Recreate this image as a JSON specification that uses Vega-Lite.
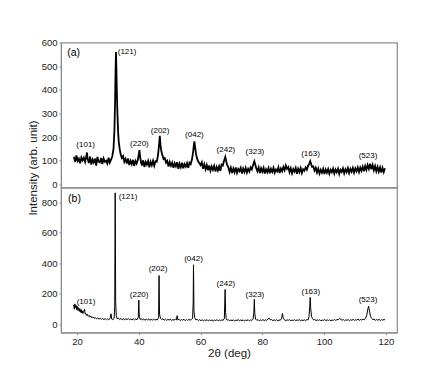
{
  "$schema": "https://vega.github.io/schema/vega-lite/v6.json",
  "padding": {"left": 26, "top": 36.5, "right": 10, "bottom": 5},
  "spacing": 0,
  "bounds": "flush",
  "config": {
    "font": "Liberation Sans",
    "view": {"stroke": "#8a8a8a", "strokeWidth": 1.2},
    "axis": {
      "grid": false,
      "domainColor": "#8a8a8a",
      "tickColor": "#8a8a8a",
      "tickSize": 2,
      "labelOverlap": false,
      "labelFont": "Liberation Sans",
      "labelFontSize": 9.5,
      "labelColor": "#222",
      "titleFont": "Liberation Sans",
      "titleFontSize": 11.5,
      "titleFontWeight": "normal",
      "titleColor": "#222"
    }
  },
  "datasets": {
    "a": [
      {"deg":19.0,"val":117},{"deg":19.4,"val":95},{"deg":19.8,"val":123},{"deg":20.2,"val":99},{"deg":20.6,"val":109},{"deg":21.0,"val":89},{"deg":21.4,"val":114},{"deg":21.8,"val":102},{"deg":22.2,"val":113},{"deg":22.6,"val":95},{"deg":23.0,"val":118},{"deg":23.2,"val":135},{"deg":23.4,"val":110},{"deg":23.8,"val":90},{"deg":24.2,"val":118},{"deg":24.6,"val":84},{"deg":25.0,"val":105},{"deg":25.4,"val":93},{"deg":25.8,"val":109},{"deg":26.2,"val":80},{"deg":26.6,"val":116},{"deg":27.0,"val":96},{"deg":27.4,"val":93},{"deg":27.8,"val":112},{"deg":28.2,"val":86},{"deg":28.6,"val":110},{"deg":29.0,"val":96},{"deg":29.4,"val":100},{"deg":29.8,"val":88},{"deg":30.2,"val":113},{"deg":30.6,"val":92},{"deg":31.0,"val":105},{"deg":31.4,"val":118},{"deg":31.8,"val":150},{"deg":32.1,"val":230},{"deg":32.3,"val":340},{"deg":32.45,"val":470},{"deg":32.6,"val":560},{"deg":32.75,"val":480},{"deg":32.9,"val":380},{"deg":33.1,"val":290},{"deg":33.3,"val":220},{"deg":33.5,"val":180},{"deg":33.8,"val":150},{"deg":34.1,"val":128},{"deg":34.5,"val":112},{"deg":34.9,"val":120},{"deg":35.3,"val":96},{"deg":35.7,"val":108},{"deg":36.1,"val":88},{"deg":36.5,"val":110},{"deg":36.9,"val":82},{"deg":37.3,"val":100},{"deg":37.7,"val":86},{"deg":38.1,"val":104},{"deg":38.5,"val":78},{"deg":38.9,"val":99},{"deg":39.3,"val":88},{"deg":39.7,"val":105},{"deg":40.0,"val":128},{"deg":40.2,"val":145},{"deg":40.4,"val":118},{"deg":40.7,"val":95},{"deg":41.0,"val":80},{"deg":41.4,"val":102},{"deg":41.8,"val":74},{"deg":42.2,"val":95},{"deg":42.6,"val":84},{"deg":43.0,"val":99},{"deg":43.4,"val":72},{"deg":43.8,"val":96},{"deg":44.2,"val":81},{"deg":44.6,"val":100},{"deg":45.0,"val":79},{"deg":45.4,"val":98},{"deg":45.8,"val":96},{"deg":46.2,"val":122},{"deg":46.5,"val":160},{"deg":46.8,"val":205},{"deg":47.0,"val":168},{"deg":47.3,"val":140},{"deg":47.6,"val":125},{"deg":48.0,"val":108},{"deg":48.4,"val":112},{"deg":48.8,"val":92},{"deg":49.2,"val":100},{"deg":49.6,"val":76},{"deg":50.0,"val":95},{"deg":50.4,"val":79},{"deg":50.8,"val":92},{"deg":51.2,"val":70},{"deg":51.6,"val":90},{"deg":52.0,"val":77},{"deg":52.4,"val":94},{"deg":52.8,"val":66},{"deg":53.2,"val":88},{"deg":53.6,"val":73},{"deg":54.0,"val":92},{"deg":54.4,"val":68},{"deg":54.8,"val":86},{"deg":55.2,"val":75},{"deg":55.6,"val":90},{"deg":56.0,"val":70},{"deg":56.4,"val":92},{"deg":56.8,"val":86},{"deg":57.2,"val":105},{"deg":57.6,"val":140},{"deg":57.85,"val":170},{"deg":58.0,"val":182},{"deg":58.2,"val":160},{"deg":58.5,"val":130},{"deg":58.8,"val":112},{"deg":59.2,"val":98},{"deg":59.6,"val":90},{"deg":60.0,"val":82},{"deg":60.4,"val":94},{"deg":60.8,"val":66},{"deg":61.2,"val":85},{"deg":61.6,"val":64},{"deg":62.0,"val":82},{"deg":62.4,"val":60},{"deg":62.8,"val":80},{"deg":63.2,"val":58},{"deg":63.6,"val":76},{"deg":64.0,"val":62},{"deg":64.4,"val":78},{"deg":64.8,"val":55},{"deg":65.2,"val":74},{"deg":65.6,"val":59},{"deg":66.0,"val":77},{"deg":66.4,"val":58},{"deg":66.8,"val":84},{"deg":67.2,"val":80},{"deg":67.6,"val":100},{"deg":68.0,"val":116},{"deg":68.3,"val":98},{"deg":68.6,"val":82},{"deg":69.0,"val":72},{"deg":69.4,"val":52},{"deg":69.8,"val":70},{"deg":70.2,"val":48},{"deg":70.6,"val":67},{"deg":71.0,"val":51},{"deg":71.4,"val":72},{"deg":71.8,"val":49},{"deg":72.2,"val":65},{"deg":72.6,"val":56},{"deg":73.0,"val":70},{"deg":73.4,"val":46},{"deg":73.8,"val":67},{"deg":74.2,"val":52},{"deg":74.6,"val":70},{"deg":75.0,"val":50},{"deg":75.4,"val":66},{"deg":75.8,"val":55},{"deg":76.2,"val":72},{"deg":76.6,"val":64},{"deg":77.0,"val":82},{"deg":77.4,"val":98},{"deg":77.7,"val":84},{"deg":78.0,"val":70},{"deg":78.4,"val":56},{"deg":78.8,"val":72},{"deg":79.2,"val":48},{"deg":79.6,"val":68},{"deg":80.0,"val":54},{"deg":80.4,"val":70},{"deg":80.8,"val":46},{"deg":81.2,"val":64},{"deg":81.6,"val":52},{"deg":82.0,"val":69},{"deg":82.4,"val":47},{"deg":82.8,"val":66},{"deg":83.2,"val":53},{"deg":83.6,"val":70},{"deg":84.0,"val":49},{"deg":84.4,"val":63},{"deg":84.8,"val":55},{"deg":85.2,"val":72},{"deg":85.6,"val":48},{"deg":86.0,"val":67},{"deg":86.4,"val":56},{"deg":86.8,"val":74},{"deg":87.2,"val":60},{"deg":87.6,"val":80},{"deg":88.0,"val":66},{"deg":88.4,"val":73},{"deg":88.8,"val":52},{"deg":89.2,"val":68},{"deg":89.6,"val":47},{"deg":90.0,"val":65},{"deg":90.4,"val":54},{"deg":90.8,"val":70},{"deg":91.2,"val":45},{"deg":91.6,"val":66},{"deg":92.0,"val":52},{"deg":92.4,"val":69},{"deg":92.8,"val":48},{"deg":93.2,"val":64},{"deg":93.6,"val":58},{"deg":94.0,"val":72},{"deg":94.4,"val":62},{"deg":94.8,"val":78},{"deg":95.2,"val":88},{"deg":95.5,"val":98},{"deg":95.8,"val":86},{"deg":96.1,"val":74},{"deg":96.5,"val":76},{"deg":96.9,"val":58},{"deg":97.3,"val":70},{"deg":97.7,"val":50},{"deg":98.1,"val":66},{"deg":98.5,"val":46},{"deg":98.9,"val":62},{"deg":99.3,"val":50},{"deg":99.7,"val":66},{"deg":100.1,"val":44},{"deg":100.5,"val":63},{"deg":100.9,"val":50},{"deg":101.3,"val":65},{"deg":101.7,"val":45},{"deg":102.1,"val":62},{"deg":102.5,"val":52},{"deg":102.9,"val":67},{"deg":103.3,"val":46},{"deg":103.7,"val":63},{"deg":104.1,"val":51},{"deg":104.5,"val":66},{"deg":104.9,"val":44},{"deg":105.3,"val":62},{"deg":105.7,"val":53},{"deg":106.1,"val":68},{"deg":106.5,"val":47},{"deg":106.9,"val":64},{"deg":107.3,"val":52},{"deg":107.7,"val":69},{"deg":108.1,"val":48},{"deg":108.5,"val":66},{"deg":108.9,"val":54},{"deg":109.3,"val":70},{"deg":109.7,"val":50},{"deg":110.1,"val":68},{"deg":110.5,"val":56},{"deg":110.9,"val":72},{"deg":111.3,"val":52},{"deg":111.7,"val":71},{"deg":112.1,"val":58},{"deg":112.5,"val":75},{"deg":112.9,"val":56},{"deg":113.3,"val":78},{"deg":113.7,"val":62},{"deg":114.1,"val":82},{"deg":114.5,"val":66},{"deg":114.9,"val":88},{"deg":115.3,"val":64},{"deg":115.7,"val":82},{"deg":116.1,"val":60},{"deg":116.5,"val":78},{"deg":116.9,"val":56},{"deg":117.3,"val":74},{"deg":117.7,"val":54},{"deg":118.1,"val":72},{"deg":118.5,"val":50},{"deg":118.9,"val":70},{"deg":119.3,"val":52},{"deg":119.7,"val":68}
    ],
    "b": [
      {"deg":18.9,"val":128},{"deg":19.1,"val":100},{"deg":19.3,"val":135},{"deg":19.5,"val":108},{"deg":19.7,"val":125},{"deg":19.9,"val":96},{"deg":20.1,"val":118},{"deg":20.3,"val":92},{"deg":20.5,"val":110},{"deg":20.7,"val":86},{"deg":20.9,"val":104},{"deg":21.1,"val":80},{"deg":21.3,"val":98},{"deg":21.5,"val":76},{"deg":21.7,"val":90},{"deg":21.9,"val":72},{"deg":22.1,"val":84},{"deg":22.3,"val":95},{"deg":22.45,"val":100},{"deg":22.6,"val":70},{"deg":22.8,"val":74},{"deg":23.0,"val":60},{"deg":23.3,"val":68},{"deg":23.6,"val":54},{"deg":23.9,"val":60},{"deg":24.2,"val":48},{"deg":24.5,"val":55},{"deg":24.8,"val":44},{"deg":25.1,"val":50},{"deg":25.5,"val":40},{"deg":25.9,"val":46},{"deg":26.3,"val":37},{"deg":26.7,"val":43},{"deg":27.1,"val":35},{"deg":27.5,"val":41},{"deg":27.9,"val":33},{"deg":28.3,"val":40},{"deg":28.7,"val":32},{"deg":29.1,"val":39},{"deg":29.5,"val":31},{"deg":29.9,"val":38},{"deg":30.3,"val":32},{"deg":30.7,"val":40},{"deg":31.0,"val":70},{"deg":31.2,"val":36},{"deg":31.6,"val":33},{"deg":32.0,"val":40},{"deg":32.2,"val":120},{"deg":32.35,"val":860},{"deg":32.5,"val":150},{"deg":32.7,"val":60},{"deg":33.0,"val":38},{"deg":33.4,"val":42},{"deg":33.8,"val":32},{"deg":34.2,"val":40},{"deg":34.6,"val":31},{"deg":35.0,"val":39},{"deg":35.4,"val":30},{"deg":35.8,"val":38},{"deg":36.2,"val":32},{"deg":36.6,"val":40},{"deg":37.0,"val":31},{"deg":37.4,"val":37},{"deg":37.8,"val":29},{"deg":38.2,"val":38},{"deg":38.6,"val":30},{"deg":39.0,"val":36},{"deg":39.4,"val":31},{"deg":39.8,"val":45},{"deg":40.0,"val":160},{"deg":40.15,"val":55},{"deg":40.4,"val":34},{"deg":40.8,"val":38},{"deg":41.2,"val":29},{"deg":41.6,"val":36},{"deg":42.0,"val":28},{"deg":42.4,"val":35},{"deg":42.8,"val":30},{"deg":43.2,"val":37},{"deg":43.6,"val":27},{"deg":44.0,"val":35},{"deg":44.4,"val":29},{"deg":44.8,"val":36},{"deg":45.2,"val":28},{"deg":45.6,"val":34},{"deg":46.0,"val":30},{"deg":46.4,"val":45},{"deg":46.55,"val":320},{"deg":46.7,"val":70},{"deg":47.0,"val":42},{"deg":47.4,"val":33},{"deg":47.8,"val":38},{"deg":48.2,"val":28},{"deg":48.6,"val":35},{"deg":49.0,"val":27},{"deg":49.4,"val":34},{"deg":49.8,"val":29},{"deg":50.2,"val":36},{"deg":50.6,"val":26},{"deg":51.0,"val":33},{"deg":51.4,"val":28},{"deg":51.8,"val":35},{"deg":52.2,"val":30},{"deg":52.4,"val":58},{"deg":52.6,"val":32},{"deg":53.0,"val":34},{"deg":53.4,"val":26},{"deg":53.8,"val":33},{"deg":54.2,"val":28},{"deg":54.6,"val":35},{"deg":55.0,"val":25},{"deg":55.4,"val":33},{"deg":55.8,"val":27},{"deg":56.2,"val":34},{"deg":56.6,"val":28},{"deg":57.0,"val":33},{"deg":57.4,"val":40},{"deg":57.6,"val":140},{"deg":57.7,"val":390},{"deg":57.85,"val":90},{"deg":58.1,"val":45},{"deg":58.5,"val":30},{"deg":58.9,"val":34},{"deg":59.3,"val":26},{"deg":59.7,"val":32},{"deg":60.1,"val":25},{"deg":60.5,"val":31},{"deg":60.9,"val":24},{"deg":61.3,"val":30},{"deg":61.7,"val":26},{"deg":62.1,"val":32},{"deg":62.5,"val":24},{"deg":62.9,"val":30},{"deg":63.3,"val":25},{"deg":63.7,"val":31},{"deg":64.1,"val":23},{"deg":64.5,"val":29},{"deg":64.9,"val":26},{"deg":65.3,"val":32},{"deg":65.7,"val":24},{"deg":66.1,"val":30},{"deg":66.5,"val":25},{"deg":66.9,"val":31},{"deg":67.3,"val":27},{"deg":67.7,"val":40},{"deg":67.95,"val":229},{"deg":68.1,"val":80},{"deg":68.3,"val":38},{"deg":68.6,"val":28},{"deg":69.0,"val":32},{"deg":69.4,"val":24},{"deg":69.8,"val":30},{"deg":70.2,"val":25},{"deg":70.6,"val":31},{"deg":71.0,"val":23},{"deg":71.4,"val":29},{"deg":71.8,"val":26},{"deg":72.2,"val":33},{"deg":72.6,"val":24},{"deg":73.0,"val":30},{"deg":73.4,"val":25},{"deg":73.8,"val":31},{"deg":74.2,"val":23},{"deg":74.6,"val":29},{"deg":75.0,"val":26},{"deg":75.4,"val":32},{"deg":75.8,"val":24},{"deg":76.2,"val":30},{"deg":76.6,"val":27},{"deg":77.0,"val":35},{"deg":77.25,"val":80},{"deg":77.4,"val":165},{"deg":77.55,"val":70},{"deg":77.8,"val":36},{"deg":78.2,"val":28},{"deg":78.6,"val":32},{"deg":79.0,"val":24},{"deg":79.4,"val":30},{"deg":79.8,"val":26},{"deg":80.2,"val":33},{"deg":80.6,"val":25},{"deg":81.0,"val":31},{"deg":81.4,"val":27},{"deg":81.8,"val":36},{"deg":82.2,"val":42},{"deg":82.6,"val":30},{"deg":83.0,"val":33},{"deg":83.4,"val":25},{"deg":83.8,"val":31},{"deg":84.2,"val":26},{"deg":84.6,"val":32},{"deg":85.0,"val":24},{"deg":85.4,"val":30},{"deg":85.8,"val":28},{"deg":86.2,"val":38},{"deg":86.5,"val":72},{"deg":86.8,"val":40},{"deg":87.2,"val":30},{"deg":87.6,"val":25},{"deg":88.0,"val":31},{"deg":88.4,"val":27},{"deg":88.8,"val":33},{"deg":89.2,"val":24},{"deg":89.6,"val":30},{"deg":90.0,"val":26},{"deg":90.4,"val":32},{"deg":90.8,"val":25},{"deg":91.2,"val":30},{"deg":91.6,"val":27},{"deg":92.0,"val":33},{"deg":92.4,"val":24},{"deg":92.8,"val":30},{"deg":93.2,"val":26},{"deg":93.6,"val":31},{"deg":94.0,"val":25},{"deg":94.4,"val":32},{"deg":94.8,"val":30},{"deg":95.1,"val":50},{"deg":95.35,"val":120},{"deg":95.5,"val":177},{"deg":95.65,"val":110},{"deg":95.9,"val":55},{"deg":96.2,"val":40},{"deg":96.6,"val":30},{"deg":97.0,"val":33},{"deg":97.4,"val":25},{"deg":97.8,"val":31},{"deg":98.2,"val":26},{"deg":98.6,"val":32},{"deg":99.0,"val":24},{"deg":99.4,"val":30},{"deg":99.8,"val":27},{"deg":100.2,"val":33},{"deg":100.6,"val":25},{"deg":101.0,"val":31},{"deg":101.4,"val":26},{"deg":101.8,"val":32},{"deg":102.2,"val":24},{"deg":102.6,"val":30},{"deg":103.0,"val":27},{"deg":103.4,"val":33},{"deg":103.8,"val":26},{"deg":104.2,"val":34},{"deg":104.6,"val":30},{"deg":105.0,"val":40},{"deg":105.4,"val":34},{"deg":105.8,"val":28},{"deg":106.2,"val":33},{"deg":106.6,"val":25},{"deg":107.0,"val":31},{"deg":107.4,"val":27},{"deg":107.8,"val":33},{"deg":108.2,"val":25},{"deg":108.6,"val":31},{"deg":109.0,"val":28},{"deg":109.4,"val":34},{"deg":109.8,"val":26},{"deg":110.2,"val":32},{"deg":110.6,"val":28},{"deg":111.0,"val":36},{"deg":111.4,"val":27},{"deg":111.8,"val":33},{"deg":112.2,"val":29},{"deg":112.6,"val":35},{"deg":113.0,"val":32},{"deg":113.4,"val":40},{"deg":113.8,"val":60},{"deg":114.1,"val":95},{"deg":114.4,"val":120},{"deg":114.7,"val":88},{"deg":115.0,"val":55},{"deg":115.4,"val":40},{"deg":115.8,"val":32},{"deg":116.2,"val":36},{"deg":116.6,"val":27},{"deg":117.0,"val":33},{"deg":117.4,"val":28},{"deg":117.8,"val":34},{"deg":118.2,"val":26},{"deg":118.6,"val":32},{"deg":119.0,"val":28},{"deg":119.4,"val":34},{"deg":119.7,"val":30}
    ],
    "la": [
      {"deg":36.2,"val":559,"txt":"(121)"},{"deg":22.8,"val":168,"txt":"(101)"},{"deg":40.2,"val":172,"txt":"(220)"},{"deg":46.9,"val":227,"txt":"(202)"},{"deg":58.0,"val":207,"txt":"(042)"},{"deg":68.2,"val":144,"txt":"(242)"},{"deg":77.6,"val":137,"txt":"(323)"},{"deg":95.6,"val":127,"txt":"(163)"},{"deg":114.2,"val":119,"txt":"(523)"}
    ],
    "lb": [
      {"deg":36.5,"val":833,"txt":"(121)"},{"deg":22.9,"val":149,"txt":"(101)"},{"deg":40.1,"val":192,"txt":"(220)"},{"deg":46.2,"val":363,"txt":"(202)"},{"deg":57.7,"val":426,"txt":"(042)"},{"deg":68.2,"val":262,"txt":"(242)"},{"deg":77.6,"val":192,"txt":"(323)"},{"deg":95.7,"val":214,"txt":"(163)"},{"deg":114.2,"val":159,"txt":"(523)"}
    ],
    "pa": [{"deg":16.8,"val":554,"txt":"(a)"}],
    "pb": [{"deg":17.1,"val":820,"txt":"(b)"}]
  },
  "vconcat": [
    {
      "width": 336,
      "height": 145,
      "layer": [
        {
          "data": {"name": "a"},
          "mark": {"type": "line", "color": "#000", "strokeWidth": 1.8},
          "encoding": {
            "x": {"field": "deg", "type": "quantitative", "scale": {"domain": [14.8, 123.6], "nice": false, "zero": false}, "axis": null},
            "y": {"field": "val", "type": "quantitative", "scale": {"domain": [-13, 600], "nice": false, "zero": false},
              "axis": {"values": [0, 100, 200, 300, 400, 500, 600], "labelOverlap": false, "tickCount": 7, "title": "Intensity (arb. unit)", "labelPadding": 2, "titleX": -28, "titleY": 125, "titleBaseline": "middle", "titleAngle": -90}}
          }
        },
        {
          "data": {"name": "la"},
          "mark": {"type": "text", "fontSize": 8, "fill": "#000", "align": "center", "baseline": "middle", "font": "Liberation Sans"},
          "encoding": {
            "x": {"field": "deg", "type": "quantitative"},
            "y": {"field": "val", "type": "quantitative"},
            "text": {"field": "txt"}
          }
        },
        {
          "data": {"name": "pa"},
          "mark": {"type": "text", "fontSize": 10.5, "fill": "#000", "align": "left", "baseline": "middle", "font": "Liberation Sans"},
          "encoding": {
            "x": {"field": "deg", "type": "quantitative"},
            "y": {"field": "val", "type": "quantitative"},
            "text": {"field": "txt"}
          }
        }
      ]
    },
    {
      "width": 336,
      "height": 145,
      "layer": [
        {
          "data": {"name": "b"},
          "mark": {"type": "line", "color": "#000", "strokeWidth": 1},
          "encoding": {
            "x": {"field": "deg", "type": "quantitative", "scale": {"domain": [14.8, 123.6], "nice": false, "zero": false},
              "axis": {"values": [20, 30, 40, 50, 60, 70, 80, 90, 100, 110, 120], "labelOverlap": false, "labelExpr": "datum.value % 20 === 0 ? datum.label : ''", "title": "2θ (deg)", "labelPadding": 2, "titlePadding": 1}},
            "y": {"field": "val", "type": "quantitative", "scale": {"domain": [-52, 895], "nice": false, "zero": false},
              "axis": {"values": [0, 200, 400, 600, 800], "labelOverlap": false, "tickCount": 5, "title": null, "labelPadding": 2}}
          }
        },
        {
          "data": {"name": "lb"},
          "mark": {"type": "text", "fontSize": 8, "fill": "#000", "align": "center", "baseline": "middle", "font": "Liberation Sans"},
          "encoding": {
            "x": {"field": "deg", "type": "quantitative"},
            "y": {"field": "val", "type": "quantitative"},
            "text": {"field": "txt"}
          }
        },
        {
          "data": {"name": "pb"},
          "mark": {"type": "text", "fontSize": 10.5, "fill": "#000", "align": "left", "baseline": "middle", "font": "Liberation Sans"},
          "encoding": {
            "x": {"field": "deg", "type": "quantitative"},
            "y": {"field": "val", "type": "quantitative"},
            "text": {"field": "txt"}
          }
        }
      ]
    }
  ]
}
